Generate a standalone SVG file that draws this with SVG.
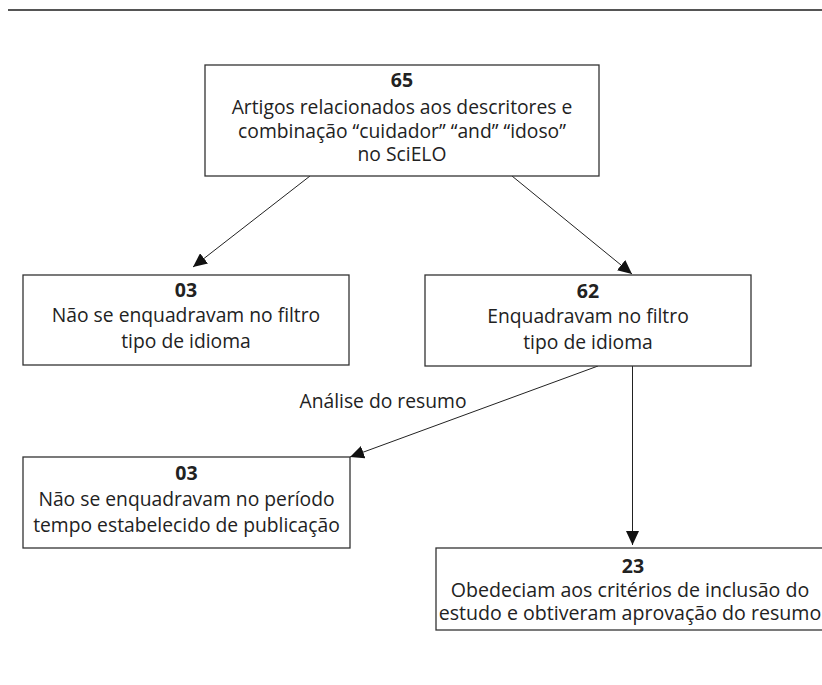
<svg xmlns="http://www.w3.org/2000/svg" width="822" height="685" viewBox="0 0 822 685">
<defs>
<marker id="arr" markerUnits="userSpaceOnUse" markerWidth="15" markerHeight="13" refX="14" refY="6.5" orient="auto">
<path d="M0,0 L14,6.5 L0,13 z" fill="#111"/>
</marker>
<style>
.box{fill:#fff;stroke:#333;stroke-width:1.3}
.t{font-family:"Open Sans","Noto Sans","DejaVu Sans",sans-serif;font-size:19.3px;fill:#222;text-anchor:middle}
.n{font-weight:bold;font-size:19.5px}
.b{font-size:19.6px}
.c{stroke:#222;stroke-width:1;fill:none;marker-end:url(#arr)}
</style>
</defs>
<rect width="822" height="685" fill="#fff"/>
<line x1="8" y1="10" x2="822" y2="10" stroke="#555" stroke-width="2"/>
<g id="connectors">
<line class="c" x1="310" y1="176" x2="193" y2="267"/>
<line class="c" x1="512" y1="176" x2="632" y2="274"/>
<line class="c" x1="598" y1="366" x2="350" y2="457"/>
<line class="c" x1="632.5" y1="366" x2="632.5" y2="545"/>
<text class="t" x="383" y="408">Análise do resumo</text>
</g>
<g id="n65">
<rect class="box" x="205" y="65" width="394" height="111"/>
<text class="t n" x="402" y="87">65</text>
<text class="t" x="402" y="114">Artigos relacionados aos descritores e</text>
<text class="t" x="402" y="137.5">combinação “cuidador” “and” “idoso”</text>
<text class="t" x="402" y="161">no SciELO</text>
</g>
<g id="n03a">
<rect class="box" x="23" y="275" width="326" height="90"/>
<text class="t n" x="186" y="297">03</text>
<text class="t" x="186" y="322">Não se enquadravam no filtro</text>
<text class="t" x="186" y="348">tipo de idioma</text>
</g>
<g id="n62">
<rect class="box" x="425" y="275" width="326" height="91"/>
<text class="t n" x="588" y="298">62</text>
<text class="t" x="588" y="323">Enquadravam no filtro</text>
<text class="t" x="588" y="349">tipo de idioma</text>
</g>
<g id="n03b">
<rect class="box" x="23" y="457" width="327" height="91"/>
<text class="t n" x="186.5" y="480">03</text>
<text class="t" x="186.5" y="506">Não se enquadravam no período</text>
<text class="t" x="186.5" y="532">tempo estabelecido de publicação</text>
</g>
<g id="n23">
<rect class="box" x="436" y="548" width="400" height="82"/>
<text class="t n" x="633" y="573">23</text>
<text class="t b" x="630" y="597">Obedeciam aos critérios de inclusão do</text>
<text class="t b" x="630" y="620">estudo e obtiveram aprovação do resumo</text>
</g>
</svg>
